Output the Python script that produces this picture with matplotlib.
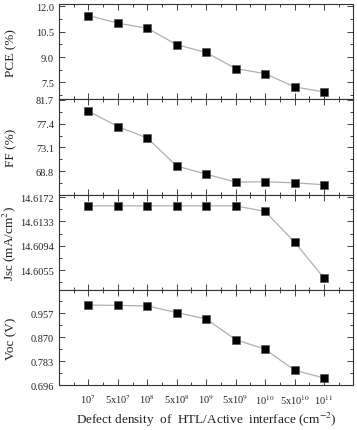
import matplotlib
matplotlib.use("Agg")
import matplotlib.pyplot as plt
from matplotlib.ticker import MultipleLocator, FixedLocator

plt.rcParams['font.family'] = ['Liberation Serif', 'DejaVu Serif']
plt.rcParams['mathtext.fontset'] = 'stix'

# defect density categories
labels = ["10$^7$", "5x10$^7$", "10$^8$", "5x10$^8$", "10$^9$",
          "5x10$^9$", "10$^{10}$", "5x10$^{10}$", "10$^{11}$"]
pce = [11.45, 11.0, 10.70, 9.73, 9.27, 8.32, 8.02, 7.24, 6.94]
ff = [79.66, 76.87, 74.8, 69.76, 68.29, 66.87, 66.92, 66.74, 66.39]
jsc = [14.6158, 14.6158, 14.6158, 14.6158, 14.6158, 14.6158, 14.6149, 14.6100, 14.6042]
voc = [0.986, 0.985, 0.983, 0.959, 0.936, 0.861, 0.826, 0.750, 0.722]

ylabels = ["PCE (%)", "FF (%)", "Jsc (mA/cm$^2$)", "Voc (V)"]
yticks = [[7.5, 9.0, 10.5, 12.0],
          [68.8, 73.1, 77.4, 81.7],
          [14.6055, 14.6094, 14.6133, 14.6172],
          [0.696, 0.783, 0.870, 0.957]]
yfmt = ["{:.1f}", "{:.1f}", "{:.4f}", "{:.3f}"]
ylims = [(6.5, 12.12), (64.6, 81.75), (14.6023, 14.6176), (0.696, 1.041)]

fig = plt.figure(figsize=(3.57, 4.31), dpi=100)
fig.subplots_adjust(left=0.165, right=0.99, top=0.988, bottom=0.104, hspace=0)
axes = fig.subplots(4, 1, sharex=True)

x = list(range(1, len(labels) + 1))
for ax, data, yl, yt, fmt, lim in zip(axes, [pce, ff, jsc, voc], ylabels, yticks, yfmt, ylims):
    ax.plot(x, data, color="#b0b0b0", lw=0.9, marker="s", ms=5.5,
            mfc="black", mec="#555555", mew=0.5)
    ax.set_ylim(lim)
    ax.set_xlim(0, 10)
    ax.yaxis.set_major_locator(FixedLocator(yt))
    step = yt[1] - yt[0]
    ax.yaxis.set_minor_locator(FixedLocator([v - step / 2 for v in yt] + [yt[-1] + step / 2]))
    ax.set_yticklabels([fmt.format(v) for v in yt])
    ax.xaxis.set_major_locator(FixedLocator(x))
    ax.xaxis.set_minor_locator(MultipleLocator(0.5))
    ax.tick_params(which="both", direction="in", top=True, right=True,
                   labelsize=7.5, colors="#222222", width=0.6)
    ax.tick_params(which="major", length=4)
    ax.tick_params(which="minor", length=2)
    ax.set_ylabel(yl, fontsize=9.5, color="#222222")
    ax.yaxis.set_label_coords(-0.14, 0.5)
    for s in ax.spines.values():
        s.set_linewidth(0.8)
        s.set_color("#333333")

axes[-1].set_xticklabels(labels)
axes[-1].tick_params(axis="x", pad=5)
axes[-1].set_xlabel("Defect density  of  HTL/Active  interface (cm$^{-2}$)",
                    fontsize=9.5, color="#222222", labelpad=3)

fig.savefig("out.png", dpi=100)
